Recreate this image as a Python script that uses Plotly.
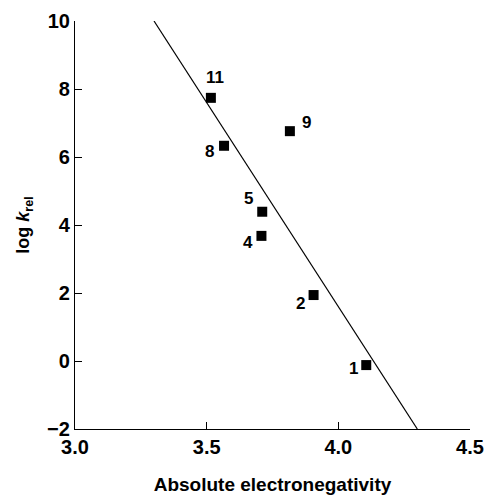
import plotly.graph_objects as go

# Data
labels = ["11", "8", "9", "5", "4", "2", "1"]
chi = [3.516, 3.566, 3.816, 3.711, 3.708, 3.906, 4.106]
logk = [7.74, 6.33, 6.76, 4.39, 3.68, 1.94, -0.12]
fit_x = [3.30, 4.30]
fit_y = [10.0, -2.0]
xticks = [3.0, 3.5, 4.0, 4.5]
yticks = [-2, 0, 2, 4, 6, 8, 10]

# label pixel offsets (style)
shifts = {"11": (4, 20), "8": (-15, -6), "9": (17, 9), "5": (-14, 13),
          "4": (-13, -7), "2": (-13, -8), "1": (-13, -3)}

FONT = "Liberation Sans, Arial, sans-serif"

fig = go.Figure()
fig.add_trace(go.Scatter(x=fit_x, y=fit_y, mode="lines",
                         line=dict(color="black", width=1.2),
                         showlegend=False, hoverinfo="skip"))
fig.add_trace(go.Scatter(x=chi, y=logk, mode="markers",
                         marker=dict(symbol="square", size=10, color="black"),
                         showlegend=False))

for lab, x, y in zip(labels, chi, logk):
    dx, dy = shifts[lab]
    fig.add_annotation(x=x, y=y, text=f"<b>{lab}</b>", showarrow=False,
                       xshift=dx, yshift=dy,
                       font=dict(family=FONT, size=17, color="black"))

fig.update_xaxes(range=[3.0, 4.5], tickvals=xticks, automargin=False,
                 ticktext=[f"<b>{v:.1f}</b>" for v in xticks],
                 showgrid=False, zeroline=False, showline=True,
                 linecolor="black", linewidth=1.2, ticks="inside",
                 ticklen=7, tickcolor="black", tickwidth=1.2,
                 tickfont=dict(family=FONT, size=20, color="black"),
                 title=dict(text="<b>Absolute electronegativity</b>",
                            font=dict(family=FONT, size=19, color="black"),
                            standoff=20))
fig.update_yaxes(range=[-2, 10], tickvals=yticks, automargin=False,
                 ticktext=[f"<b>{'\u2212' if v < 0 else ''}{abs(v)}</b>" for v in yticks],
                 showgrid=False, zeroline=False, showline=True,
                 linecolor="black", linewidth=1.2, ticks="inside",
                 ticklen=7, tickcolor="black", tickwidth=1.2,
                 tickfont=dict(family=FONT, size=20, color="black"),
                 title=dict(text="<b>log <i>k</i><sub>rel</sub></b>",
                            font=dict(family=FONT, size=18, color="black"),
                            standoff=12))

fig.update_layout(width=485, height=499,
                  margin=dict(l=75, r=15, t=21, b=70),
                  plot_bgcolor="white", paper_bgcolor="white")

fig.write_html("out.html")
